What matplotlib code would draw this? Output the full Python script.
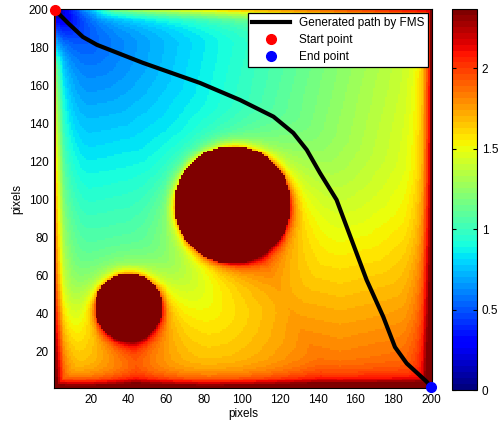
import numpy as np
import matplotlib
matplotlib.use("Agg")
import matplotlib.pyplot as plt

plt.rcParams['font.family'] = ['Liberation Sans', 'DejaVu Sans']

# ---- data ----
grid_size = 200
obstacle_cx = [40, 95]
obstacle_cy = [43, 97]
obstacle_r = [18, 31]
start_pt = (1, 200)
end_pt = (200, 1)
path_x = [1, 8, 15.7, 23.2, 47.5, 77.7, 98.9, 116.6, 127.1, 134.2, 141.2, 150,
          165.9, 174.7, 180.9, 187.1, 197.7, 200]
path_y = [200, 193, 185.8, 181.6, 172.1, 161.5, 152.5, 143.7, 135.1, 126.2, 114, 99.8,
          57.5, 38.1, 22.1, 13.5, 3.8, 1]
x_ticks = [20, 40, 60, 80, 100, 120, 140, 160, 180, 200]
y_ticks = [20, 40, 60, 80, 100, 120, 140, 160, 180, 200]
cbar_ticks = [0, 0.5, 1, 1.5, 2]
vmax = 2.37

# model parameters of the arrival-time map
wall_sat, obst_sat, speed_floor = 18.0, 26.0, 0.15
start_boost_len = 15.0
time_scale = 0.0051
start_jump, start_jump_len = 0.36, 8.0
wall_rim, wall_rim_len, wall_rim_fade = 0.45, 3.5, 25.0
obst_rim, obst_rim_len = 0.3, 2.0

# ---- arrival-time field ----
N = grid_size
c = np.arange(1, N + 1, dtype=float)
X, Y = np.meshgrid(c, c)
d_wall = np.minimum.reduce([X - 1, N - X, Y - 1, N - Y])
wall = d_wall <= 0
d_obs = np.full_like(X, np.inf)
inside = np.zeros_like(X, dtype=bool)
for cx, cy, r in zip(obstacle_cx, obstacle_cy, obstacle_r):
    dd = np.hypot(X - cx, Y - cy) - r
    inside |= dd < 0
    d_obs = np.minimum(d_obs, dd)
blocked = wall | inside
sx, sy = start_pt[0] + 1, start_pt[1] - 1  # first free pixel next to the corner
r_start = np.hypot(X - sx, Y - sy)
Fw = np.clip(d_wall / wall_sat, speed_floor, 1.0)
Fo = np.clip(d_obs / obst_sat, speed_floor, 1.0)
F = np.maximum(np.minimum(Fw, Fo), np.exp(-r_start / start_boost_len))
W = 1.0 / F
W[blocked] = 1e7

T = np.full((N, N), np.inf)
T[sy - 1, sx - 1] = 0.0
dirs = [(1, 0), (-1, 0), (0, 1), (0, -1), (1, 1), (1, -1), (-1, 1), (-1, -1),
        (2, 1), (2, -1), (-2, 1), (-2, -1), (1, 2), (1, -2), (-1, 2), (-1, -2)]


def sl(o, n):
    return slice(max(o, 0), n + min(o, 0))


for it in range(3000):
    Told = T.copy()
    for dx, dy in dirs:
        L = np.hypot(dx, dy)
        tr, tc = sl(dy, N), sl(dx, N)
        sr, sc = sl(-dy, N), sl(-dx, N)
        cand = T[sr, sc] + L * 0.5 * (W[tr, tc] + W[sr, sc])
        np.minimum(T[tr, tc], cand, out=T[tr, tc])
    if np.array_equal(T, Told):
        break

field = T * time_scale
field += start_jump * (1 - np.exp(-r_start / start_jump_len))
field += (wall_rim * np.exp(-(np.maximum(d_wall, 1) - 1) / wall_rim_len)
          * (1 - np.exp(-r_start / wall_rim_fade)))
field += obst_rim * np.exp(-np.maximum(d_obs, 0) / obst_rim_len)
field[blocked] = vmax
field = np.clip(field, 0, vmax)

# ---- plot ----
fig = plt.figure(figsize=(4.98, 4.23), dpi=100)
ax = fig.add_axes([0.1085, 0.0827, 0.759, 0.896])
cax = fig.add_axes([0.9076, 0.078, 0.0502, 0.901])

im = ax.imshow(field, origin='lower', extent=[0.5, N + 0.5, 0.5, N + 0.5],
               cmap=plt.get_cmap('jet', 64), vmin=0, vmax=vmax,
               interpolation='nearest', aspect='auto')
ax.plot(path_x, path_y, color='black', lw=3, label='Generated path by FMS')
ax.plot([start_pt[0]], [start_pt[1]], 'o', color='red', ms=7, mec='red',
        clip_on=False, zorder=5, label='Start point')
ax.plot([end_pt[0]], [end_pt[1]], 'o', color='blue', ms=7, mec='blue',
        clip_on=False, zorder=5, label='End point')
ax.set_xlim(0.5, N + 0.5)
ax.set_ylim(0.5, N + 0.5)
ax.set_xticks(x_ticks)
ax.set_yticks(y_ticks)
ax.tick_params(labelsize=8.5, length=0, pad=4)
ax.set_xlabel('pixels', fontsize=8.5, labelpad=2)
ax.set_ylabel('pixels', fontsize=8.5, labelpad=4)
for s in ax.spines.values():
    s.set_linewidth(0.8)

leg = ax.legend(loc='upper right', fontsize=8.5, frameon=True, fancybox=False,
                edgecolor='black', framealpha=1, borderaxespad=0.35,
                handlelength=3.2, labelspacing=0.45, borderpad=0.3,
                numpoints=1)
leg.get_frame().set_linewidth(0.9)

cb = fig.colorbar(im, cax=cax, ticks=cbar_ticks)
cb.ax.tick_params(labelsize=8.5, direction='in', length=3, left=True, right=True)
cb.set_ticklabels(['0', '0.5', '1', '1.5', '2'])
cb.outline.set_linewidth(0.8)

fig.savefig('out.png', dpi=100)
